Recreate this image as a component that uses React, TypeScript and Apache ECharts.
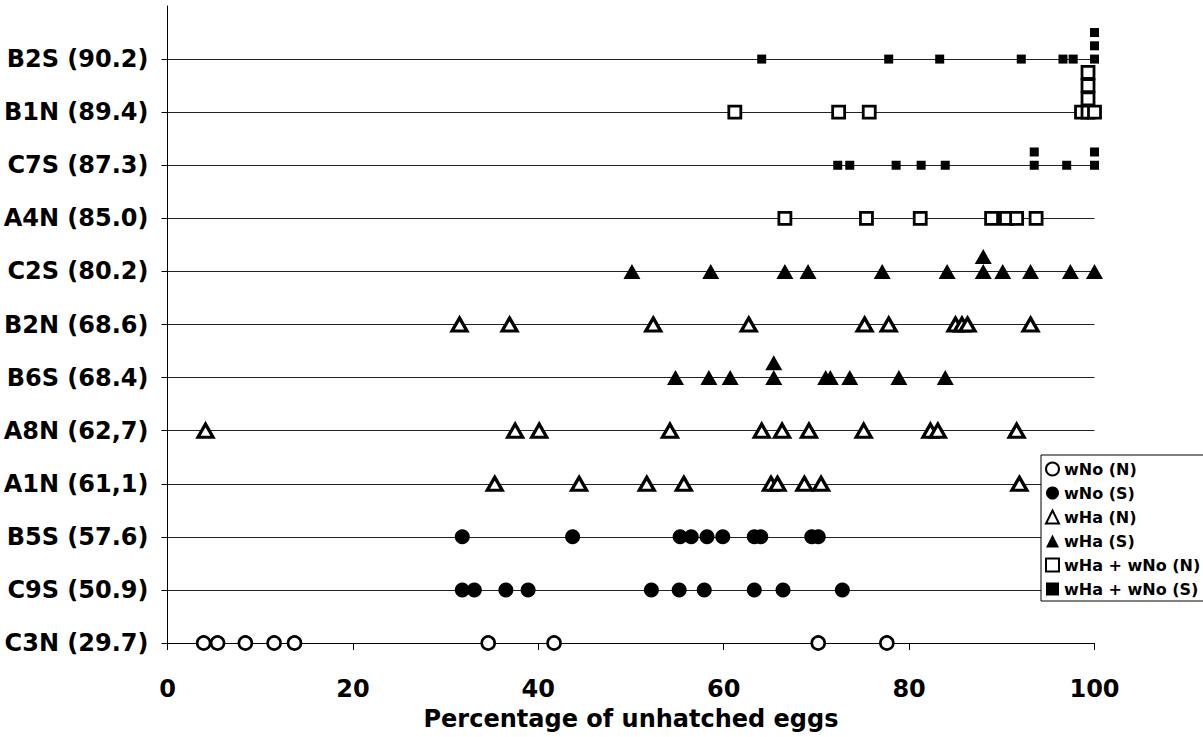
import React, { useEffect, useRef } from "react";
import * as echarts from "echarts";

// Row labels, bottom to top
const rowLabels = [
  "C3N (29.7)",
  "C9S (50.9)",
  "B5S (57.6)",
  "A1N (61,1)",
  "A8N (62,7)",
  "B6S (68.4)",
  "B2N (68.6)",
  "C2S (80.2)",
  "A4N (85.0)",
  "C7S (87.3)",
  "B1N (89.4)",
  "B2S (90.2)",
];

// Percentage of unhatched eggs per clutch, per row
const c3n = [3.9, 5.4, 8.4, 11.5, 13.7, 34.6, 41.7, 70.2, 77.6];
const c9s = [31.8, 33.1, 36.5, 38.9, 52.2, 55.2, 57.9, 63.3, 66.4, 72.8];
const b5s = [31.8, 43.7, 55.3, 56.5, 58.2, 59.9, 63.3, 64.0, 69.5, 70.2];
const a1n = [35.3, 44.4, 51.7, 55.7, 65.1, 65.8, 68.7, 70.5, 91.9];
const a8n = [4.1, 37.5, 40.1, 54.2, 64.1, 66.3, 69.2, 75.1, 82.3, 83.1, 91.6];
const b6s = [54.8, 58.4, 60.7, 65.4, 65.4, 71.0, 71.5, 73.6, 78.9, 83.9];
const b2n = [31.5, 36.9, 52.4, 62.7, 75.2, 77.8, 85.0, 85.7, 86.3, 93.1];
const c2s = [50.1, 58.6, 66.6, 69.1, 77.1, 84.1, 88.0, 88.0, 90.1, 93.1, 97.4, 100];
const a4n = [66.6, 75.4, 81.2, 88.9, 90.5, 91.6, 93.7];
const c7s = [72.3, 73.6, 78.6, 81.3, 83.9, 93.5, 93.5, 97.0, 100, 100];
const b1n = [61.2, 72.4, 75.7, 98.6, 99.3, 99.3, 99.3, 99.3, 100];
const b2s = [64.1, 77.8, 83.3, 92.1, 96.6, 97.7, 100, 100, 100];

const rowValues = [c3n, c9s, b5s, a1n, a8n, b6s, b2n, c2s, a4n, c7s, b1n, b2s];

// Treatment groups (legend entries) and which rows belong to them
const groupNames = [
  "wNo (N)",
  "wNo (S)",
  "wHa (N)",
  "wHa (S)",
  "wHa + wNo (N)",
  "wHa + wNo (S)",
];
const rowGroup = [0, 1, 1, 2, 2, 3, 2, 3, 4, 5, 4, 5];

const groupStyle = [
  { symbol: "circle", size: 13, open: true, bw: 2.6, step: 0.26 },
  { symbol: "circle", size: 15, open: false, bw: 0, step: 0.26 },
  { symbol: "triangle", size: [15, 13], open: true, bw: 3.2, step: 0.28 },
  { symbol: "triangle", size: [17, 15], open: false, bw: 0, step: 0.28 },
  { symbol: "rect", size: 12, open: true, bw: 2.8, step: 0.25 },
  { symbol: "rect", size: 9, open: false, bw: 0, step: 0.25 },
];

const FONT = "DejaVu Sans";

export default function App() {
  const ref = useRef<HTMLDivElement>(null);

  useEffect(() => {
    if (!ref.current) return;
    const chart = echarts.init(ref.current, null, { renderer: "svg" });

    const series = groupNames.map((name, g) => {
      const st = groupStyle[g];
      const data: number[][] = [];
      rowValues.forEach((vals, r) => {
        if (rowGroup[r] !== g) return;
        const seen: Record<string, number> = {};
        vals.forEach((v) => {
          const key = v.toFixed(1);
          const level = seen[key] || 0;
          seen[key] = level + 1;
          data.push([v, r + level * st.step]);
        });
      });
      return {
        name,
        type: "scatter",
        xAxisIndex: 0,
        yAxisIndex: 1,
        symbol: st.symbol,
        symbolSize: st.size,
        clip: false,
        itemStyle: st.open
          ? { color: "#fff", borderColor: "#000", borderWidth: st.bw, opacity: 1 }
          : { color: "#000", borderColor: "#000", borderWidth: 0, opacity: 1 },
        data,
        z: 3,
      };
    });

    const cats = [...rowLabels, ""];

    chart.setOption({
      animation: false,
      backgroundColor: "#fff",
      grid: { left: 167.5, right: 108.5, top: 6, bottom: 94, containLabel: false },
      xAxis: {
        type: "value",
        min: 0,
        max: 100,
        interval: 20,
        axisLine: { show: true, lineStyle: { color: "#000", width: 1 } },
        axisTick: { show: true, inside: false, length: 7, lineStyle: { color: "#000" } },
        splitLine: { show: false },
        axisLabel: {
          color: "#000",
          fontFamily: FONT,
          fontWeight: "bold",
          fontSize: 24,
          margin: 34,
        },
        name: "Percentage of unhatched eggs",
        nameLocation: "middle",
        nameGap: 64,
        nameTextStyle: {
          color: "#000",
          fontFamily: FONT,
          fontWeight: "bold",
          fontSize: 24,
        },
      },
      yAxis: [
        {
          type: "category",
          data: cats,
          boundaryGap: false,
          axisLine: { show: true, onZero: false, lineStyle: { color: "#000", width: 1 } },
          axisTick: {
            show: true,
            length: 6,
            interval: (i: number) => i < rowLabels.length,
            lineStyle: { color: "#000" },
          },
          splitLine: {
            show: true,
            interval: (i: number) => i < rowLabels.length,
            lineStyle: { color: "#222", width: 1 },
          },
          axisLabel: {
            interval: 0,
            color: "#000",
            fontFamily: FONT,
            fontWeight: "bold",
            fontSize: 24,
            margin: 19,
          },
        },
        {
          type: "value",
          min: 0,
          max: rowLabels.length,
          show: false,
          splitLine: { show: false },
        },
      ],
      legend: {
        orient: "vertical",
        left: 1041,
        top: 455,
        padding: [6, 30, 4, 4],
        itemGap: 8,
        itemWidth: 13,
        itemHeight: 13,
        borderColor: "#000",
        borderWidth: 1,
        backgroundColor: "#fff",
        textStyle: {
          color: "#000",
          fontFamily: FONT,
          fontWeight: "bold",
          fontSize: 16,
        },
        data: groupNames,
      },
      series,
    });

    return () => chart.dispose();
  }, []);

  return (
    <div
      ref={ref}
      style={{ position: "fixed", left: 0, top: 0, width: 1203, height: 737, background: "#fff" }}
    />
  );
}
